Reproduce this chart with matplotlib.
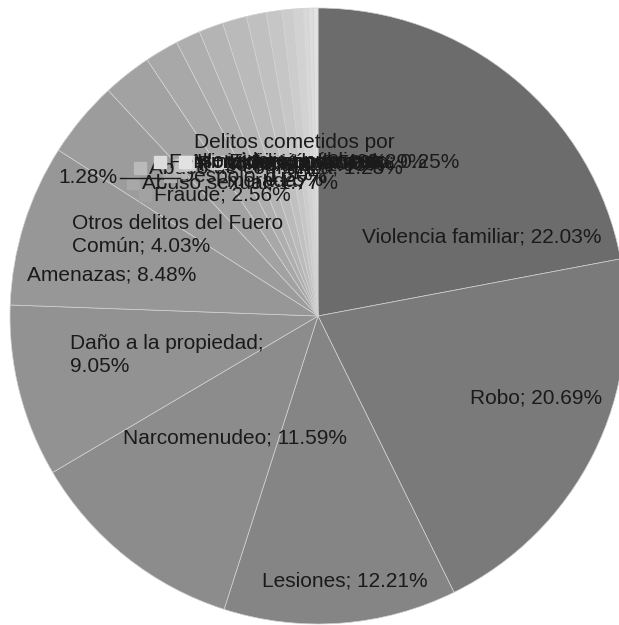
import matplotlib
matplotlib.use("Agg")
import matplotlib.pyplot as plt
import numpy as np

plt.rcParams['font.family'] = ['Liberation Sans', 'DejaVu Sans']

# datos (porcentajes), en sentido horario desde arriba
delitos = ["Violencia familiar", "Robo", "Lesiones", "Narcomenudeo",
           "Daño a la propiedad", "Amenazas", "Otros delitos del Fuero Común",
           "Fraude", "Abuso sexual", "Despojo", "Allanamiento de morada",
           "Abuso de confianza", "Acoso sexual", "Pandillerismo", "Violación",
           "Extorsión", "Homicidio doloso", "Feminicidio consumado",
           "Delitos cometidos por servidores públicos"]
porcentajes = [22.03, 20.69, 12.21, 11.59, 9.05, 8.48, 4.03,
               2.56, 1.77, 1.30, 1.28, 1.28, 1.03, 0.83, 0.59,
               0.49, 0.29, 0.25, 0.25]
grises = ["#6c6c6c", "#7a7a7a", "#858585", "#8c8c8c", "#929292", "#979797",
          "#9c9c9c", "#a2a2a2", "#a8a8a8", "#aeaeae", "#b4b4b4", "#bababa",
          "#c0c0c0", "#c6c6c6", "#cccccc", "#d2d2d2", "#d8d8d8", "#dddddd",
          "#e2e2e2"]

W, H = 619, 625
CX, CY, R = 318, 316, 308


def px(x, y):
    # pixel de la imagen -> coordenadas del eje
    return (x - CX) / R, (CY - y) / R


fig = plt.figure(figsize=(W / 100, H / 100), dpi=100)
ax = fig.add_axes([0, 0, 1, 1])
wedges, _ = ax.pie(porcentajes, colors=grises, startangle=90, counterclock=False,
                   radius=1, wedgeprops=dict(edgecolor="#d2d2d2", linewidth=0.5))
ax.set_xlim(-CX / R, (W - CX) / R)
ax.set_ylim(-(H - CY) / R, CY / R)
ax.set_aspect("equal")
ax.axis("off")

fs = 15

# etiquetas de las rebanadas grandes (posiciones en pixeles)
grandes = {
    0: ((482, 237), "center"),
    1: ((536, 398), "center"),
    2: ((345, 581), "center"),
    3: ((235, 438), "center"),
    4: ((70, 355), "left"),
    5: ((112, 275), "center"),
    6: ((72, 235), "left"),
}
for i, ((x, y), ha) in grandes.items():
    nombre = delitos[i]
    if i == 4:
        txt = f"{nombre};\n{porcentajes[i]:.2f}%"
    elif i == 6:
        txt = f"Otros delitos del Fuero\nComún; {porcentajes[i]:.2f}%"
    else:
        txt = f"{nombre}; {porcentajes[i]:.2f}%"
    tx, ty = px(x, y)
    ax.text(tx, ty, txt, ha=ha, va="center", fontsize=fs, color="#1a1a1a",
            linespacing=1.25)

# etiquetas de las rebanadas pequeñas, amontonadas a media distancia
for i in range(7, len(delitos)):
    w = wedges[i]
    ang = np.deg2rad((w.theta1 + w.theta2) / 2)
    x, y = 0.5 * np.cos(ang), 0.5 * np.sin(ang)
    nombre = delitos[i]
    pct = f"{porcentajes[i]:.2f}%"
    if nombre == "Allanamiento de morada":
        txt = "Allanamiento de\nmorada;"
        ax.text(*px(118, 178), pct, ha="right", va="center",
                fontsize=fs, color="#1a1a1a")
        ax.plot(*zip(px(120, 178), px(180, 178)), color="#1a1a1a", lw=1,
                zorder=5)
    elif len(nombre) > 25:
        txt = "Delitos cometidos por\nservidores públicos;\n" + pct
        x, y = px(294, 162)
    else:
        txt = f"{nombre}; {pct}"
    t = ax.text(x, y, txt, ha="center", va="center", fontsize=fs,
                color="#1a1a1a", linespacing=1.0)
    # cuadrito de leyenda a la izquierda de la etiqueta
    fig.canvas.draw()
    bb = t.get_window_extent().transformed(ax.transData.inverted())
    s = 12 / R
    ax.add_patch(plt.Rectangle((bb.x0 - s - 3 / R, y - s / 2), s, s,
                               color=grises[i], zorder=3))

fig.savefig("out.png", dpi=100)
